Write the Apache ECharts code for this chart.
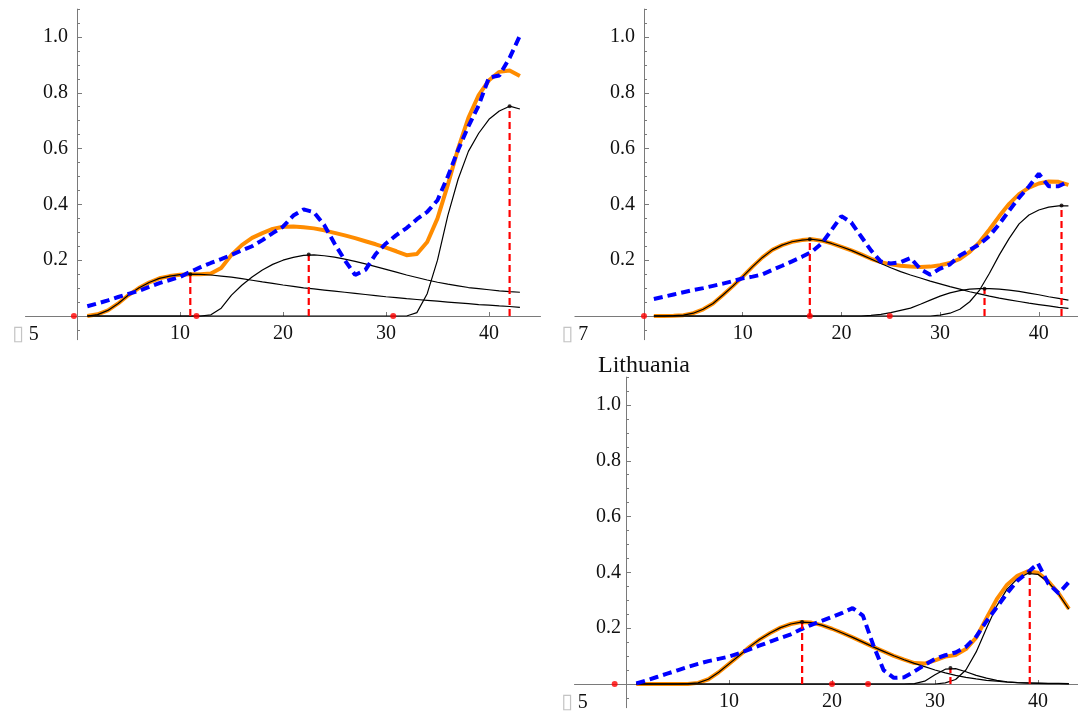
<!DOCTYPE html>
<html>
<head>
<meta charset="utf-8">
<title>Lithuania</title>
<script src="https://cdn.jsdelivr.net/npm/echarts@6/dist/echarts.min.js"></script>
<style>
  html, body { margin: 0; padding: 0; background: #fff; }
  #chart { width: 1078px; height: 713px; }
</style>
</head>
<body>
<div id="chart"></div>
<script>
// Sample positions shared by every curve
const xs = [1,2,3,4,5,6,7,8,9,10,11,12,13,14,15,16,17,18,19,20,21,22,23,24,25,26,27,28,29,30,31,32,33,34,35,36,37,38,39,40,41,42,43];

// Tick values
const yMajorTicks = [0, 0.2, 0.4, 0.6, 0.8, 1.0];
const yLabelTicks = [0.2, 0.4, 0.6, 0.8, 1.0];
const yMinorTicks = [-0.05, 0.05, 0.1, 0.15, 0.25, 0.3, 0.35, 0.45, 0.5, 0.55, 0.65, 0.7, 0.75, 0.85, 0.9, 0.95, 1.05, 1.1];
const xMajorTicks = [10, 20, 30, 40];

// ---- Panel A (top left) ----
const observedA = [0.035,0.045,0.056,0.068,0.079,0.09,0.104,0.118,0.129,0.14,0.158,0.175,0.19,0.204,0.219,0.235,0.25,0.272,0.297,0.32,0.36,0.382,0.372,0.326,0.26,0.2,0.147,0.165,0.222,0.26,0.29,0.315,0.347,0.373,0.415,0.5,0.595,0.68,0.755,0.855,0.862,0.925,1.005];
const fitA = [0,0.006,0.02,0.045,0.075,0.1,0.12,0.135,0.143,0.148,0.15,0.15,0.152,0.172,0.219,0.254,0.28,0.297,0.312,0.32,0.321,0.318,0.314,0.307,0.298,0.289,0.279,0.268,0.257,0.245,0.232,0.218,0.222,0.265,0.35,0.47,0.6,0.71,0.792,0.845,0.875,0.88,0.86];
const comp1A = [0,0.005,0.02,0.045,0.075,0.1,0.12,0.135,0.143,0.148,0.15,0.149,0.147,0.143,0.139,0.134,0.128,0.122,0.117,0.111,0.106,0.101,0.097,0.093,0.089,0.085,0.081,0.077,0.073,0.069,0.066,0.062,0.059,0.056,0.053,0.05,0.047,0.044,0.041,0.039,0.036,0.034,0.031];
const comp2A = [0,0,0,0,0,0,0,0,0,0,0,0,0.004,0.028,0.075,0.11,0.14,0.165,0.185,0.2,0.21,0.217,0.219,0.216,0.211,0.204,0.196,0.187,0.177,0.167,0.157,0.147,0.138,0.129,0.121,0.114,0.108,0.102,0.098,0.094,0.09,0.087,0.085];
const comp3A = [0,0,0,0,0,0,0,0,0,0,0,0,0,0,0,0,0,0,0,0,0,0,0,0,0,0,0,0,0,0,0,0,0.012,0.08,0.2,0.36,0.49,0.59,0.655,0.705,0.735,0.752,0.742];
const peakXA = [11, 22.5, 42];
const peakYA = [0.15, 0.22, 0.752];
const markXA = [-0.3, 11.6, 30.7];

// ---- Panel B (top right) ----
const observedB = [0.061,0.069,0.077,0.085,0.093,0.1,0.108,0.116,0.125,0.135,0.141,0.149,0.165,0.18,0.196,0.212,0.23,0.26,0.308,0.358,0.335,0.285,0.235,0.195,0.188,0.193,0.208,0.168,0.148,0.17,0.185,0.217,0.237,0.257,0.287,0.33,0.378,0.424,0.464,0.51,0.465,0.465,0.482];
const fitB = [0,0,0.001,0.003,0.01,0.024,0.045,0.075,0.107,0.141,0.177,0.21,0.237,0.254,0.266,0.272,0.275,0.27,0.26,0.248,0.235,0.221,0.205,0.193,0.185,0.18,0.177,0.176,0.177,0.182,0.19,0.205,0.23,0.265,0.31,0.358,0.402,0.437,0.46,0.475,0.482,0.481,0.47];
const comp1B = [0,0,0.001,0.003,0.01,0.024,0.045,0.075,0.107,0.141,0.177,0.21,0.237,0.254,0.266,0.272,0.275,0.27,0.26,0.248,0.235,0.22,0.204,0.188,0.173,0.159,0.147,0.136,0.125,0.115,0.105,0.096,0.087,0.079,0.071,0.064,0.058,0.052,0.046,0.041,0.036,0.031,0.027];
const comp2B = [0,0,0,0,0,0,0,0,0,0,0,0,0,0,0,0,0,0,0,0,0,0,0.002,0.006,0.012,0.02,0.028,0.042,0.057,0.071,0.083,0.091,0.096,0.098,0.098,0.096,0.093,0.088,0.082,0.076,0.069,0.063,0.057];
const comp3B = [0,0,0,0,0,0,0,0,0,0,0,0,0,0,0,0,0,0,0,0,0,0,0,0,0,0,0,0,0,0.003,0.01,0.024,0.051,0.093,0.153,0.219,0.278,0.33,0.362,0.38,0.39,0.395,0.395];
const peakXB = [16.8, 34.5, 42.3];
const peakYB = [0.275, 0.098, 0.396];
const markXB = [0, 16.8, 24.9];

// ---- Panel C (Lithuania) ----
const observedC = [0.002,0.013,0.025,0.037,0.049,0.061,0.072,0.082,0.09,0.098,0.11,0.124,0.138,0.152,0.165,0.178,0.196,0.212,0.226,0.24,0.255,0.272,0.245,0.14,0.05,0.022,0.024,0.045,0.068,0.09,0.103,0.113,0.133,0.17,0.225,0.275,0.325,0.37,0.4,0.432,0.36,0.325,0.365];
const fitC = [0,0,0,0,0,0,0.004,0.017,0.042,0.072,0.102,0.133,0.16,0.183,0.202,0.215,0.222,0.22,0.211,0.198,0.183,0.167,0.15,0.133,0.117,0.101,0.087,0.075,0.073,0.085,0.098,0.104,0.125,0.166,0.236,0.304,0.356,0.388,0.404,0.399,0.368,0.325,0.269];
const comp1C = [0,0,0,0,0,0.001,0.004,0.017,0.042,0.072,0.102,0.133,0.16,0.183,0.202,0.215,0.222,0.22,0.211,0.198,0.183,0.167,0.15,0.133,0.117,0.101,0.087,0.074,0.062,0.05,0.04,0.031,0.024,0.018,0.013,0.01,0.007,0.005,0.004,0.003,0.002,0.002,0.001];
const comp2C = [0,0,0,0,0,0,0,0,0,0,0,0,0,0,0,0,0,0,0,0,0,0,0,0,0,0,0,0.001,0.01,0.033,0.053,0.055,0.044,0.031,0.021,0.013,0.008,0.005,0.003,0.002,0.001,0.001,0];
const comp3C = [0,0,0,0,0,0,0,0,0,0,0,0,0,0,0,0,0,0,0,0,0,0,0,0,0,0,0,0,0,0,0.004,0.016,0.05,0.115,0.2,0.28,0.34,0.377,0.396,0.393,0.365,0.322,0.268];
const peakXC = [17.1, 31.5, 39.2];
const peakYC = [0.222, 0.057, 0.398];
const markXC = [-1.1, 20.0, 23.5];

// Layout of the three panels (pixel boxes chosen so that all share one y scale).
// Axes cross at the origin, so each axis is shifted from the grid edge by the
// pixel distance to zero: yShift for the vertical axis, xShift for the horizontal one.
const panels = [
  { box: { left: 25.5, top: 9.1, width: 515, height: 330.6 }, xMin: -5, xMax: 45, yShift: 51.5, yLabelGap: 9,
    observed: observedA, fit: fitA, comps: [comp1A, comp2A, comp3A], peakX: peakXA, peakY: peakYA, markX: markXA },
  { box: { left: 574.9, top: 9.1, width: 503.4, height: 330.6 }, xMin: -7, xMax: 44, yShift: 69.1, yLabelGap: 9,
    observed: observedB, fit: fitB, comps: [comp1B, comp2B, comp3B], peakX: peakXB, peakY: peakYB, markX: markXB },
  { box: { left: 574.5, top: 377.1, width: 504.7, height: 330.6 }, xMin: -5, xMax: 44, yShift: 51.5, yLabelGap: 5,
    observed: observedC, fit: fitC, comps: [comp1C, comp2C, comp3C], peakX: peakXC, peakY: peakYC, markX: markXC }
];
const yMin = -0.085, yMax = 1.1;
const xShift = 23.7;

const AXIS_GRAY = '#7a7a7a';
const FONT = 'Liberation Serif';
const ORANGE = '#ff8c00';
const BLUE = '#0000ff';
const RED = '#ff0000';

const pairs = (vals) => xs.map((x, k) => [x, vals[k]]);

const grids = [], xAxes = [], yAxes = [], series = [];

panels.forEach((p, i) => {
  grids.push(Object.assign({ outerBoundsMode: 'none', containLabel: false }, p.box));

  xAxes.push({
    gridIndex: i, type: 'value', min: p.xMin, max: p.xMax, position: 'bottom', offset: -xShift,
    axisLine: { show: true, onZero: false, lineStyle: { color: AXIS_GRAY, width: 1 } },
    axisTick: { show: true, inside: true, length: 4, customValues: xMajorTicks, lineStyle: { color: AXIS_GRAY } },
    axisLabel: {
      show: true, customValues: [p.xMin].concat(xMajorTicks), margin: 8,
      fontFamily: FONT, fontSize: 20, color: '#111',
      formatter: (v) => v < 0 ? '{m|\u25AF} ' + Math.abs(v) : String(v),
      rich: { m: { color: '#c4c4c4', fontSize: 21, fontFamily: 'DejaVu Sans' } }
    },
    splitLine: { show: false }
  });

  // main value axis: line, major ticks, labels
  yAxes.push({
    gridIndex: i, type: 'value', min: yMin, max: yMax, position: 'left', offset: -p.yShift,
    axisLine: { show: true, onZero: false, lineStyle: { color: AXIS_GRAY, width: 1 } },
    axisTick: { show: true, inside: true, length: 5, customValues: yMajorTicks, lineStyle: { color: AXIS_GRAY } },
    axisLabel: {
      show: true, customValues: yLabelTicks, margin: p.yLabelGap,
      fontFamily: FONT, fontSize: 20, color: '#111',
      formatter: (v) => v.toFixed(1)
    },
    splitLine: { show: false }
  });
  // companion axis carrying the short ticks
  yAxes.push({
    gridIndex: i, type: 'value', min: yMin, max: yMax, position: 'left', offset: -p.yShift,
    axisLine: { show: false, onZero: false },
    axisTick: { show: true, inside: true, length: 3, customValues: yMinorTicks, lineStyle: { color: AXIS_GRAY } },
    axisLabel: { show: false },
    splitLine: { show: false }
  });

  const base = { xAxisIndex: i, yAxisIndex: 2 * i, symbol: 'none', silent: true, animation: false };

  series.push(Object.assign({}, base, {
    type: 'line', data: pairs(p.fit), z: 2,
    lineStyle: { color: ORANGE, width: 4, join: 'round' }
  }));
  p.comps.forEach((c) => {
    series.push(Object.assign({}, base, {
      type: 'line', data: pairs(c), z: 3,
      lineStyle: { color: '#000', width: 1.2 }
    }));
  });
  series.push(Object.assign({}, base, {
    type: 'line', data: pairs(p.observed), z: 4,
    lineStyle: { color: BLUE, width: 4, type: [9, 5] }
  }));
  p.peakX.forEach((px, k) => {
    series.push(Object.assign({}, base, {
      type: 'line', data: [[px, 0], [px, p.peakY[k]]], z: 5,
      lineStyle: { color: RED, width: 2.2, type: [7, 4] }
    }));
  });
  series.push({
    type: 'scatter', xAxisIndex: i, yAxisIndex: 2 * i, silent: true, animation: false, z: 6,
    symbolSize: 4, itemStyle: { color: '#000' },
    data: p.peakX.map((px, k) => [px, p.peakY[k]])
  });
  series.push({
    type: 'scatter', xAxisIndex: i, yAxisIndex: 2 * i, silent: true, animation: false, z: 6,
    symbolSize: 6, itemStyle: { color: RED },
    data: p.markX.map((mx) => [mx, 0])
  });
});

const chart = echarts.init(document.getElementById('chart'), null, { renderer: 'canvas' });
chart.setOption({
  backgroundColor: '#ffffff',
  animation: false,
  title: {
    text: 'Lithuania', left: 598, top: 354, padding: 0,
    textStyle: { fontFamily: FONT, fontSize: 24, fontWeight: 'normal', color: '#111' }
  },
  grid: grids,
  xAxis: xAxes,
  yAxis: yAxes,
  series: series
});
</script>
</body>
</html>
